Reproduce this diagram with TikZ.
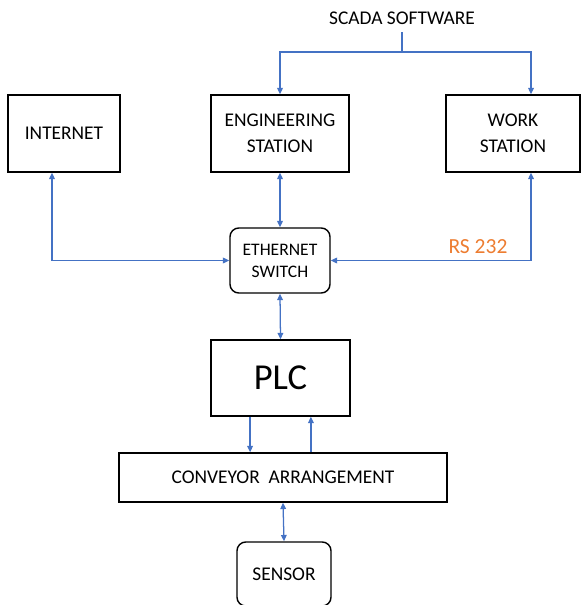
\documentclass[tikz,border=0pt]{standalone}
\usepackage{fontspec}
\setmainfont{Carlito}
\usetikzlibrary{arrows.meta, positioning, calc}
\definecolor{LinkBlue}{RGB}{68, 114, 196}
\definecolor{SerialOrange}{RGB}{237, 125, 49}

\begin{document}
\begin{tikzpicture}[
        x=0.025cm, y=-0.025cm,
        box/.style={draw=black, line width=1pt, inner sep=0pt, align=center, font=\fontsize{13.8}{18.5}\selectfont},
        roundbox/.style={box, rounded corners=0.22cm},
        link/.style={draw=LinkBlue, line width=0.9pt, {Triangle[length=4.5pt,width=4pt]}-{Triangle[length=4.5pt,width=4pt]}},
        oneway/.style={draw=LinkBlue, line width=0.9pt, -{Triangle[length=4.5pt,width=4pt]}}
    ]
        \useasboundingbox (0,0) rectangle (582,605);

        \node[font=\fontsize{13.8}{16}\selectfont] (scada) at (402,18) {SCADA SOFTWARE};
        \coordinate (split) at (402,52);

        \node[box, minimum width=2.8cm, minimum height=1.925cm] (internet) at (64,133.5) {INTERNET};
        \node[box, minimum width=3.45cm, minimum height=1.925cm] (eng) at (280,133.5) {ENGINEERING\\STATION};
        \node[box, minimum width=3.35cm, minimum height=1.925cm] (work) at (513,133.5) {WORK\\STATION};

        \node[roundbox, minimum width=2.5cm, minimum height=1.625cm, font=\fontsize{12.5}{15.6}\selectfont] (switch) at (280,260.5) {ETHERNET\\SWITCH};
        \node[box, minimum width=3.475cm, minimum height=1.9cm, font=\fontsize{26}{30}\selectfont] (plc) at (280.5,378) {PLC};
        \node[box, minimum width=8.2cm, minimum height=1.225cm] (conv) at (283,477.5) {CONVEYOR~~ARRANGEMENT};
        \node[roundbox, minimum width=2.35cm, minimum height=1.6cm] (sensor) at (284,574) {SENSOR};

        \node[text=SerialOrange, font=\fontsize{15.3}{18}\selectfont] (rs) at (478,247) {RS 232};

        % software feed to both stations
        \draw[draw=LinkBlue, line width=0.9pt] ([yshift=-2pt]scada.south) -- (split);
        \draw[oneway] (split) -| (eng.north);
        \draw[oneway] (split) -| ([xshift=0.45cm]work.north);

        % network around the switch
        \draw[link] ([xshift=-0.3cm]internet.south) |- (switch.west);
        \draw[link] ([xshift=0.45cm]work.south) |- (switch.east);
        \draw[link] (eng.south) -- (switch.north);
        \draw[link] (switch.south) -- (plc.north);

        % plant side
        \draw[oneway] ([xshift=-0.76cm]plc.south) -- ([xshift=-0.76cm]plc.south |- conv.north);
        \draw[oneway] ([xshift=0.76cm]plc.south |- conv.north) -- ([xshift=0.76cm]plc.south);
        \draw[link] (conv.south) -- (sensor.north);
    \end{tikzpicture}
\end{document}
